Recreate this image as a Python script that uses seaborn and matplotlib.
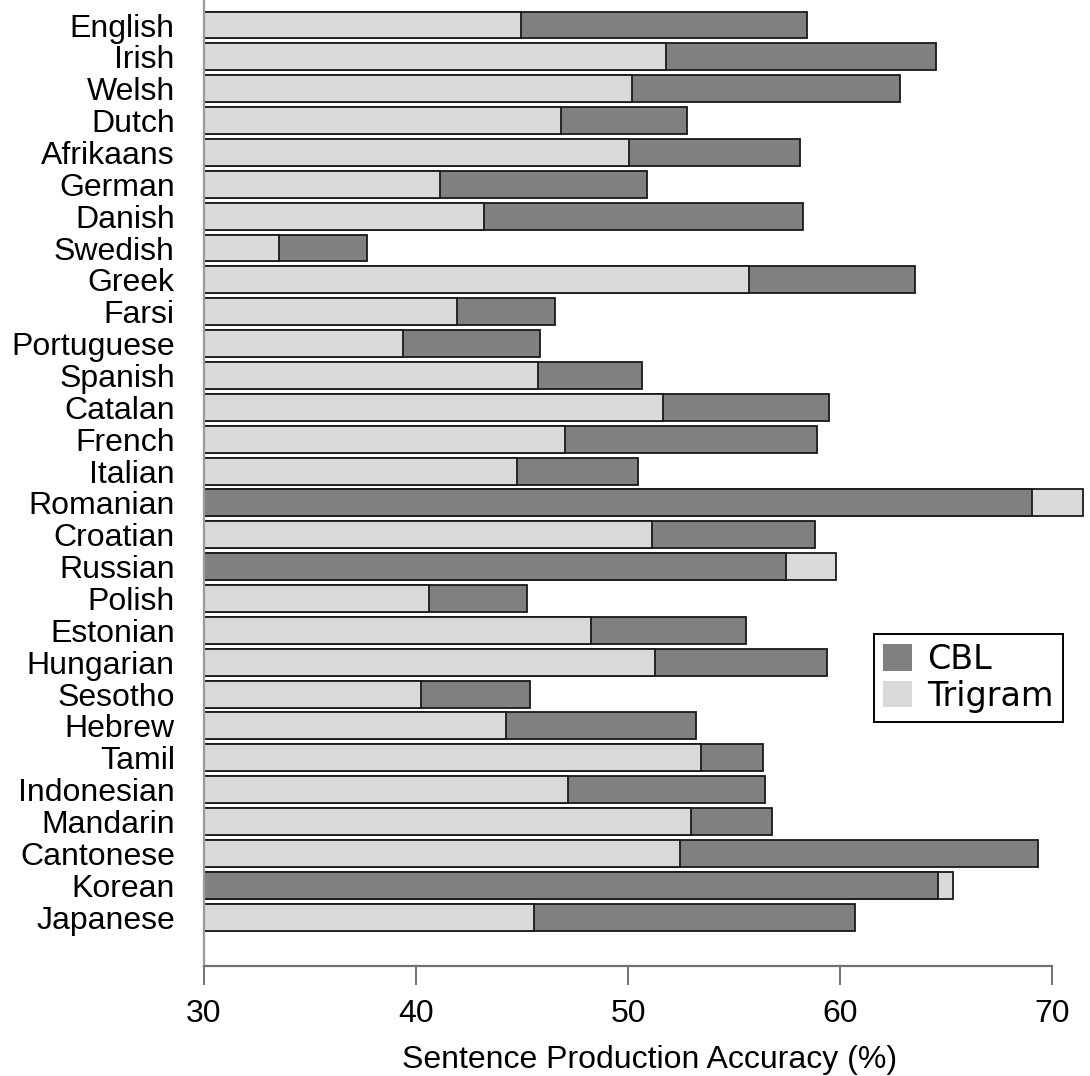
import matplotlib
matplotlib.use("Agg")
import matplotlib.pyplot as plt
from matplotlib.patches import Patch
import pandas as pd
import seaborn as sns

languages = [
    "English", "Irish", "Welsh", "Dutch", "Afrikaans", "German", "Danish",
    "Swedish", "Greek", "Farsi", "Portuguese", "Spanish", "Catalan", "French",
    "Italian", "Romanian", "Croatian", "Russian", "Polish", "Estonian",
    "Hungarian", "Sesotho", "Hebrew", "Tamil", "Indonesian", "Mandarin",
    "Cantonese", "Korean", "Japanese",
]
cbl = [
    58.44, 64.51, 62.85, 52.80, 58.10, 50.90, 58.25,
    37.70, 63.52, 46.57, 45.85, 50.68, 59.47, 58.90,
    50.46, 69.04, 58.84, 57.44, 45.22, 55.55,
    59.37, 45.38, 53.19, 56.37, 56.46, 56.78,
    69.36, 64.61, 60.72,
]
trigram = [
    44.95, 51.78, 50.17, 46.84, 50.06, 41.13, 43.21,
    33.52, 55.72, 41.93, 39.40, 45.74, 51.64, 47.03,
    44.75, 71.48, 51.15, 59.80, 40.63, 48.25,
    51.27, 40.22, 44.25, 53.43, 47.19, 52.96,
    52.45, 65.31, 45.57,
]
methods = ["CBL", "Trigram"]
xticks = [30, 40, 50, 60, 70]

colors = {"CBL": "#808080", "Trigram": "#d9d9d9"}

df = pd.DataFrame({
    "language": languages * 2,
    "method": ["CBL"] * len(languages) + ["Trigram"] * len(languages),
    "value": cbl + trigram,
})
# the longer bar of each pair sits behind, the shorter one is drawn on top
longest = df.groupby("language")["value"].transform("max")
back = df[df["value"] == longest]
front = df[df["value"] != longest]

sns.set_style("white")
plt.rcParams["font.family"] = ["Liberation Sans", "DejaVu Sans"]
plt.rcParams["text.color"] = "black"
plt.rcParams["xtick.color"] = "black"
plt.rcParams["ytick.color"] = "black"
plt.rcParams["axes.labelcolor"] = "black"

fig = plt.figure(figsize=(10.9, 10.76), dpi=100)
ax = fig.add_axes([204 / 1090, 110 / 1076, 42 * 21.2 / 1090, 966 / 1076])

for layer in (back, front):
    sns.barplot(
        data=layer, y="language", x="value", hue="method",
        order=languages, hue_order=methods, palette=colors,
        dodge=False, width=0.845, orient="h",
        edgecolor="#1a1a1a", linewidth=1.3, saturation=1,
        legend=False, ax=ax,
    )

ax.set_xlim(30, 72)
ax.set_ylim(29.535, -0.785)
ax.set_xticks(xticks)
ax.set_xticklabels([str(t) for t in xticks], fontsize=23)
ax.set_yticks(range(len(languages)))
ax.set_yticklabels(languages, fontsize=23)
ax.set_ylabel("")
ax.set_xlabel("Sentence Production Accuracy (%)", fontsize=23, labelpad=12)

ax.tick_params(axis="y", left=False, length=0, pad=21)
ax.tick_params(axis="x", bottom=True, length=13.5, width=1.4,
               color="#707070", pad=10)

for side in ("top", "right"):
    ax.spines[side].set_visible(False)
ax.spines["bottom"].set_bounds(30, 70)
ax.spines["bottom"].set_color("#707070")
ax.spines["bottom"].set_linewidth(1.6)
ax.spines["left"].set_color("#9a9a9a")
ax.spines["left"].set_linewidth(1.6)

handles = [Patch(facecolor=colors[m], edgecolor="none", label=m) for m in methods]
leg = ax.legend(
    handles=handles, loc="upper right",
    bbox_to_anchor=(1063 / 1090, 1 - 634 / 1076), bbox_transform=fig.transFigure,
    borderaxespad=0, frameon=True, fancybox=False, shadow=False,
    prop={"family": "DejaVu Sans", "size": 24},
    handlelength=0.87, handleheight=0.85, handletextpad=0.45,
    borderpad=0.28, labelspacing=0.1,
)
leg.get_frame().set_edgecolor("black")
leg.get_frame().set_linewidth(1.4)
leg.get_frame().set_alpha(1)

fig.savefig("out.png", dpi=100)
